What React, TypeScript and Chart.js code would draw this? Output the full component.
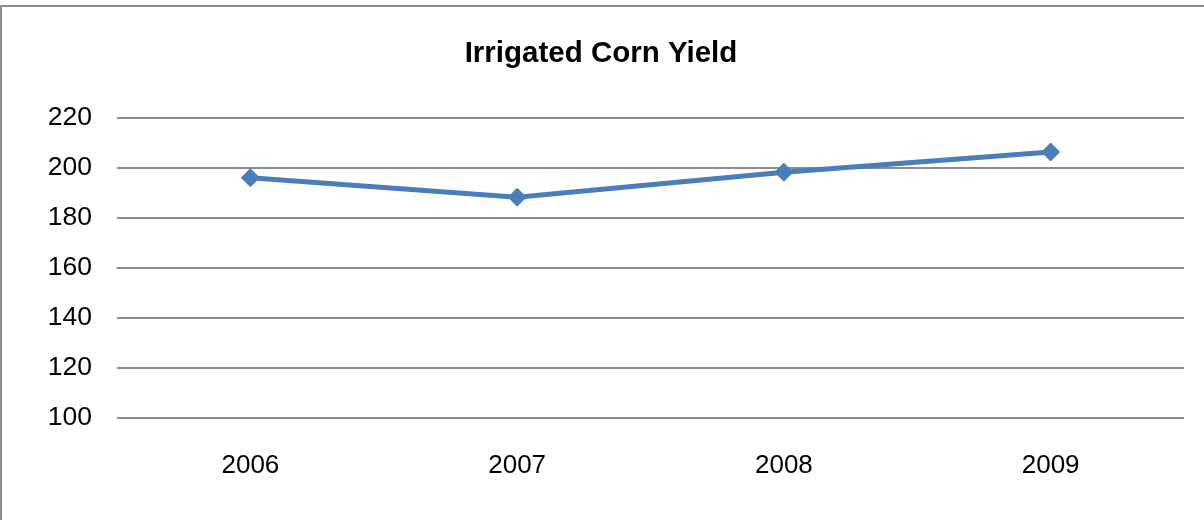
import React, { useEffect, useRef } from "react";
import { Chart, registerables } from "chart.js";

Chart.register(...registerables);

const categories = ["2006", "2007", "2008", "2009"];
const yieldValues = [196.1, 188.3, 198.3, 206.4];
const yTicks = [100, 120, 140, 160, 180, 200, 220];
const chartTitle = "Irrigated Corn Yield";

const FONT = "'Liberation Sans', Arial, sans-serif";

const framePlugin = {
  id: "frame",
  beforeDraw(chart: any) {
    const ctx = chart.ctx;
    ctx.save();
    ctx.strokeStyle = "#8c8c8c";
    ctx.lineWidth = 2;
    ctx.beginPath();
    ctx.moveTo(1, chart.height);
    ctx.lineTo(1, 6);
    ctx.lineTo(chart.width, 6);
    ctx.stroke();
    ctx.restore();
  },
  afterDraw(chart: any) {
    const ctx = chart.ctx;
    ctx.save();
    ctx.fillStyle = "#000";
    ctx.font = `bold 29.5px ${FONT}`;
    ctx.textAlign = "center";
    ctx.textBaseline = "middle";
    ctx.fillText(chartTitle, 601, 54);
    ctx.restore();
  },
};

export default function App() {
  const ref = useRef<HTMLCanvasElement | null>(null);
  useEffect(() => {
    if (!ref.current) return;
    const chart = new Chart(ref.current, {
      type: "line",
      data: {
        labels: categories,
        datasets: [
          {
            label: "Yield",
            data: yieldValues,
            borderColor: "#4a7ebb",
            backgroundColor: "#4a7ebb",
            borderWidth: 5,
            pointStyle: "rectRot",
            pointRadius: 9,
            pointBorderWidth: 1,
            pointBackgroundColor: "#4a7ebb",
            pointBorderColor: "#4a7ebb",
            tension: 0,
          },
        ],
      },
      options: {
        animation: false,
        responsive: false,
        layout: { padding: { top: 118, right: 20, bottom: 0, left: 0 } },
        plugins: {
          legend: { display: false },
          tooltip: { enabled: false },
          title: { display: false },
        },
        scales: {
          x: {
            offset: true,
            grid: { display: false },
            border: { display: false },
            ticks: {
              color: "#000",
              padding: 24,
              font: { family: FONT, size: 26 },
              maxRotation: 0,
            },
            afterFit(scale: any) {
              scale.height = 102;
            },
          },
          y: {
            min: 100,
            max: 220,
            afterBuildTicks(scale: any) {
              scale.ticks = yTicks.map((v) => ({ value: v }));
            },
            grid: { color: "#8c8c8c", lineWidth: 2, drawTicks: false },
            border: { display: false },
            ticks: {
              color: "#000",
              padding: 25,
              font: { family: FONT, size: 26.5 },
            },
            afterFit(scale: any) {
              scale.width = 117;
            },
          },
        },
      },
      plugins: [framePlugin],
    } as any);
    return () => chart.destroy();
  }, []);
  return (
    <div style={{ position: "fixed", left: 0, top: 0, width: 1204, height: 520, background: "#fff" }}>
      <canvas ref={ref} width={1204} height={520} style={{ display: "block" }} />
    </div>
  );
}
